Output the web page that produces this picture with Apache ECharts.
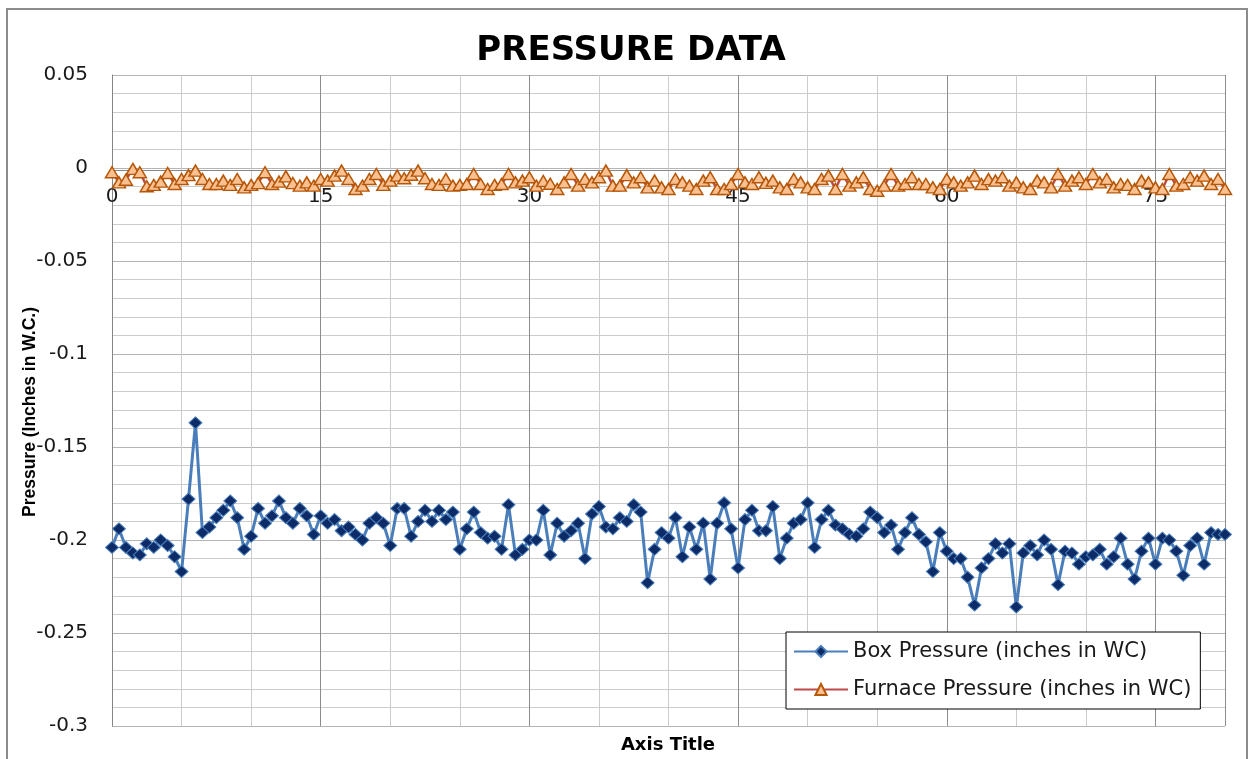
<!DOCTYPE html>
<html><head><meta charset="utf-8">
<script src="https://cdn.jsdelivr.net/npm/echarts@6/dist/echarts.min.js"></script>
<style>html,body{margin:0;padding:0;background:#fff}#c{width:1251px;height:759px}</style>
</head><body><div id="c"></div>
<script>
const chartTitle = 'PRESSURE DATA';
const xAxisTitle = 'Axis Title';
const yAxisTitle = 'Pressure (Inches in W.C.)';
const seriesNames = ['Box Pressure (inches in WC)', 'Furnace Pressure (inches in WC)'];
const timeStep = 0.5;
const xTicks = [0, 15, 30, 45, 60, 75];
const yTicks = [0.05, 0, -0.05, -0.1, -0.15, -0.2, -0.25, -0.3];

const boxPressure = [
 -0.204, -0.194, -0.204, -0.207, -0.208, -0.202, -0.204, -0.200, -0.203, -0.209,
 -0.217, -0.178, -0.137, -0.196, -0.193, -0.188, -0.184, -0.179, -0.188, -0.205,
 -0.198, -0.183, -0.191, -0.187, -0.179, -0.188, -0.191, -0.183, -0.187, -0.197,
 -0.187, -0.191, -0.189, -0.195, -0.193, -0.197, -0.200, -0.191, -0.188, -0.191,
 -0.203, -0.183, -0.183, -0.198, -0.190, -0.184, -0.190, -0.184, -0.189, -0.185,
 -0.205, -0.194, -0.185, -0.196, -0.199, -0.198, -0.205, -0.181, -0.208, -0.205,
 -0.200, -0.200, -0.184, -0.208, -0.191, -0.198, -0.195, -0.191, -0.210, -0.186,
 -0.182, -0.193, -0.194, -0.188, -0.190, -0.181, -0.185, -0.223, -0.205, -0.196,
 -0.199, -0.188, -0.209, -0.193, -0.205, -0.191, -0.221, -0.191, -0.180, -0.194,
 -0.215, -0.189, -0.184, -0.195, -0.195, -0.182, -0.210, -0.199, -0.191, -0.189,
 -0.180, -0.204, -0.189, -0.184, -0.192, -0.194, -0.197, -0.198, -0.194, -0.185,
 -0.188, -0.196, -0.192, -0.205, -0.196, -0.188, -0.197, -0.201, -0.217, -0.196,
 -0.206, -0.210, -0.210, -0.220, -0.235, -0.215, -0.210, -0.202, -0.207, -0.202,
 -0.236, -0.207, -0.203, -0.208, -0.200, -0.205, -0.224, -0.206, -0.207, -0.213,
 -0.209, -0.208, -0.205, -0.213, -0.209, -0.199, -0.213, -0.221, -0.206, -0.199,
 -0.213, -0.199, -0.200, -0.206, -0.219, -0.203, -0.199, -0.213, -0.196, -0.197,
 -0.197
];

const furnacePressure = [
 -0.0023, -0.0077, -0.0063, -0.0005, -0.0023, -0.0098, -0.0091, -0.0073, -0.0027, -0.0086,
 -0.0059, -0.0038, -0.0014, -0.0059, -0.0086, -0.0086, -0.0068, -0.0091, -0.0059, -0.0104,
 -0.0091, -0.0081, -0.0023, -0.0086, -0.0073, -0.0045, -0.0081, -0.0095, -0.0077, -0.0095,
 -0.0059, -0.0068, -0.0041, -0.0014, -0.0059, -0.0113, -0.0095, -0.0059, -0.0032, -0.0091,
 -0.0068, -0.0041, -0.0055, -0.0036, -0.0014, -0.0055, -0.0086, -0.0091, -0.0059, -0.0095,
 -0.0091, -0.0086, -0.0032, -0.0086, -0.0113, -0.0091, -0.0086, -0.0032, -0.0077, -0.0068,
 -0.0050, -0.0095, -0.0070, -0.0085, -0.0113, -0.0077, -0.0032, -0.0095, -0.0059, -0.0077,
 -0.0050, -0.0014, -0.0095, -0.0095, -0.0038, -0.0077, -0.0050, -0.0104, -0.0068, -0.0104,
 -0.0113, -0.0059, -0.0077, -0.0095, -0.0113, -0.0068, -0.0050, -0.0113, -0.0113, -0.0086,
 -0.0032, -0.0077, -0.0086, -0.0050, -0.0080, -0.0068, -0.0104, -0.0113, -0.0059, -0.0077,
 -0.0104, -0.0113, -0.0059, -0.0041, -0.0113, -0.0032, -0.0095, -0.0077, -0.0050, -0.0113,
 -0.0122, -0.0095, -0.0032, -0.0095, -0.0086, -0.0050, -0.0086, -0.0086, -0.0104, -0.0113,
 -0.0059, -0.0077, -0.0095, -0.0077, -0.0041, -0.0086, -0.0060, -0.0068, -0.0050, -0.0095,
 -0.0077, -0.0104, -0.0113, -0.0068, -0.0077, -0.0104, -0.0032, -0.0095, -0.0068, -0.0050,
 -0.0086, -0.0032, -0.0077, -0.0059, -0.0104, -0.0086, -0.0091, -0.0113, -0.0068, -0.0077,
 -0.0104, -0.0113, -0.0032, -0.0095, -0.0086, -0.0050, -0.0068, -0.0041, -0.0086, -0.0059,
 -0.0113
];

const times = boxPressure.map((_, i) => i * timeStep);
const xMax = times[times.length - 1];
const yMin = yTicks[yTicks.length - 1];
const yMax = yTicks[0];
const boxData = times.map((t, i) => [t, boxPressure[i]]);
const furnaceData = times.map((t, i) => [t, furnacePressure[i]]);

const chart = echarts.init(document.getElementById('c'), null, {renderer: 'canvas'});
const labelFont = {fontFamily: 'DejaVu Sans', fontSize: 20, color: '#1a1a1a'};

chart.setOption({
  animation: false,
  backgroundColor: '#ffffff',
  grid: {left: 112, top: 75, right: 26, bottom: 33, containLabel: false},
  legend: {
    orient: 'vertical', left: 786, top: 632,
    padding: [9, 9, 9, 7], itemGap: 17, itemWidth: 54, itemHeight: 14,
    backgroundColor: '#ffffff', borderColor: '#000000', borderWidth: 1, borderRadius: 0,
    textStyle: {fontFamily: 'DejaVu Sans', fontSize: 21, color: '#1a1a1a'},
    data: seriesNames
  },
  xAxis: [
    {
      type: 'value', min: 0, max: xMax, interval: 5, position: 'top',
      axisLine: {show: false, onZero: false}, axisTick: {show: false}, axisLabel: {show: false},
      splitLine: {show: true, lineStyle: {color: '#cccccc', width: 1}}
    },
    {
      type: 'value', min: 0, max: xMax, interval: 15, position: 'bottom', offset: 0,
      axisLine: {show: true, onZero: false, lineStyle: {color: '#868686', width: 1}},
      axisTick: {show: false},
      axisLabel: Object.assign({margin: 16, showMaxLabel: false,
        formatter: v => (xTicks.indexOf(v) >= 0 ? String(v) : '')}, labelFont),
      splitLine: {show: true, lineStyle: {color: '#8c8c8c', width: 1}}
    }
  ],
  yAxis: {
    type: 'value', min: yMin, max: yMax, interval: 0.05,
    axisLine: {show: true, onZero: false, lineStyle: {color: '#868686', width: 1}},
    axisTick: {show: false},
    axisLabel: Object.assign({margin: 24, formatter: v => {
      const t = yTicks.find(k => Math.abs(k - v) < 1e-9);
      return t === undefined ? '' : String(t);
    }}, labelFont),
    splitLine: {show: true, lineStyle: {color: '#b4b4b4', width: 1}},
    minorTick: {show: false, splitNumber: 5},
    minorSplitLine: {show: true, lineStyle: {color: '#cccccc', width: 1}}
  },
  series: [
    {
      name: seriesNames[0], type: 'line', xAxisIndex: 1, data: boxData,
      showAllSymbol: true, symbol: 'diamond', symbolSize: [13, 12],
      lineStyle: {color: '#4A7EBB', width: 3},
      itemStyle: {color: '#0C2B67', borderColor: '#4A7EBB', borderWidth: 1},
      emphasis: {disabled: true}, z: 3
    },
    {
      name: seriesNames[1], type: 'line', xAxisIndex: 1, data: furnaceData,
      showAllSymbol: true, symbol: 'triangle', symbolSize: [13, 11],
      lineStyle: {color: '#BE4B48', width: 2.5},
      itemStyle: {color: '#FAC090', borderColor: '#B65708', borderWidth: 1.5},
      emphasis: {disabled: true}, z: 4
    }
  ],
  graphic: [
    {type: 'rect', silent: true, z: 100,
      shape: {x: 7, y: 9, width: 1240, height: 790},
      style: {fill: 'none', stroke: '#8c8c8c', lineWidth: 2}},
    {type: 'text', silent: true, x: 631, y: 51,
      style: {text: chartTitle, font: 'bold 34px "DejaVu Sans"', fill: '#000000', align: 'center', verticalAlign: 'middle'}},
    {type: 'text', silent: true, x: 668, y: 745,
      style: {text: xAxisTitle, font: 'bold 18px "DejaVu Sans"', fill: '#000000', align: 'center', verticalAlign: 'middle'}},
    {type: 'text', silent: true, x: 30, y: 412, rotation: Math.PI / 2,
      style: {text: yAxisTitle, font: 'bold 17.5px "Liberation Sans"', fill: '#000000', align: 'center', verticalAlign: 'middle'}}
  ]
});

// Place the labelled x axis on the y = 0 line (Excel "horizontal axis crosses at 0").
const zeroY = chart.convertToPixel({yAxisIndex: 0}, 0);
const bottomY = chart.convertToPixel({yAxisIndex: 0}, yMin);
chart.setOption({xAxis: [{}, {offset: zeroY - bottomY}]});
</script>
</body></html>
